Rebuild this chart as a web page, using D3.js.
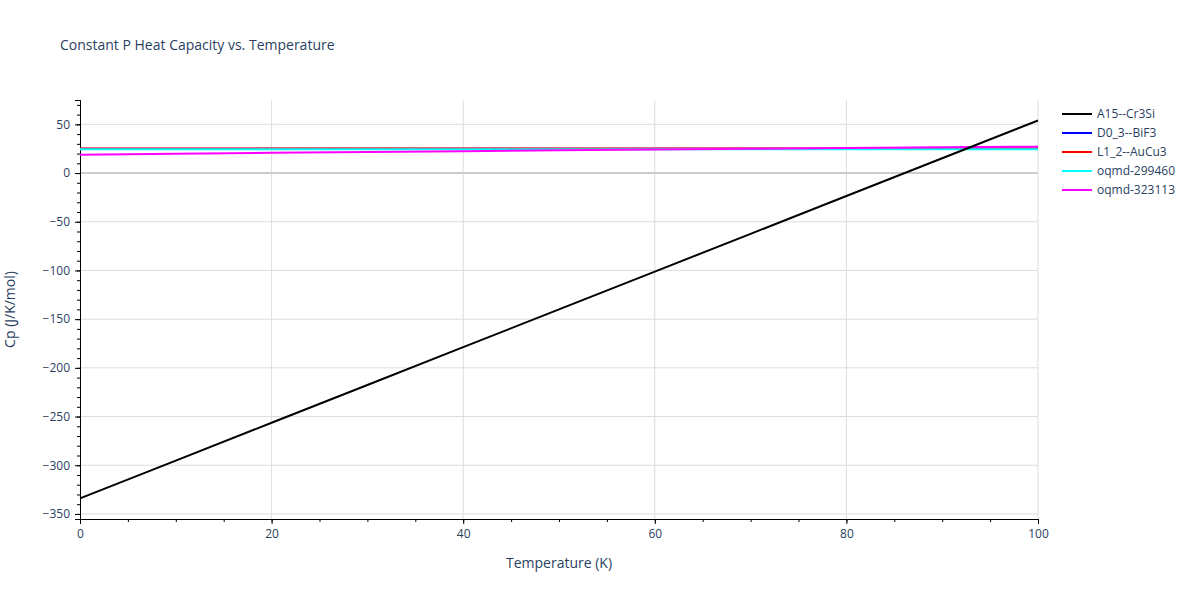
<!DOCTYPE html>
<html><head><meta charset="utf-8">
<script src="https://cdn.jsdelivr.net/npm/d3@7"></script>
<style>body{margin:0;background:#fff;font-family:"Open Sans",sans-serif}</style>
</head><body><div id="chart"></div>
<script>
const temps = [0, 10, 20, 30, 40, 50, 60, 70, 80, 90, 100];
const seriesNames = ["A15--Cr3Si", "D0_3--BiF3", "L1_2--AuCu3", "oqmd-299460", "oqmd-323113"];
const seriesColors = ["#000000", "#0000ff", "#ff0000", "#00ffff", "#ff00ff"];
const cpA15 = [-334, -295.2, -256.4, -217.6, -178.8, -140, -101.2, -62.4, -23.6, 15.2, 54];
const cpD03 = [25, 25, 25, 25, 25, 25, 25, 25, 25, 25, 25];
const cpL12 = [25.2, 25.2, 25.2, 25.2, 25.2, 25.2, 25.2, 25.2, 25.2, 25.2, 25.2];
const cp299460 = [24.5, 24.5, 24.5, 24.5, 24.5, 24.5, 24.5, 24.5, 24.5, 24.5, 24.5];
const cp323113 = [18.8, 19.8, 20.8, 21.7, 22.5, 23.3, 24.1, 24.9, 25.7, 26.4, 27.1];
const allCp = [cpA15, cpD03, cpL12, cp299460, cp323113];
const yTicks = [50, 0, -50, -100, -150, -200, -250, -300, -350];
const xTicks = [0, 20, 40, 60, 80, 100];

const width = 1200, height = 600,
      margin = ({top: 100, right: 162, bottom: 81, left: 80});

const svg = d3.select("#chart").append("svg")
  .attr("width", width).attr("height", height);

const x = d3.scaleLinear().domain([0, 100]).range([margin.left, width - margin.right]);
const y = d3.scaleLinear().domain([-355.2, 75]).range([height - margin.bottom, margin.top]);

// grid
svg.append("g").selectAll("line").data(xTicks.slice(1)).join("line")
  .attr("x1", d => x(d)).attr("x2", d => x(d))
  .attr("y1", margin.top).attr("y2", height - margin.bottom)
  .attr("stroke", "#ddd");
svg.append("g").selectAll("line").data(yTicks).join("line")
  .attr("x1", margin.left).attr("x2", width - margin.right)
  .attr("y1", d => y(d)).attr("y2", d => y(d))
  .attr("stroke", d => d === 0 ? "#ccc" : "#ddd").attr("stroke-width", d => d === 0 ? 2 : 1);

// axes
const yAxis = svg.append("g").attr("transform", `translate(${margin.left},0)`)
  .call(d3.axisLeft(y).tickValues(yTicks).tickSize(5).tickFormat(d => d < 0 ? "\u2212" + (-d) : d));
svg.append("g").attr("transform", `translate(${margin.left},0)`)
  .call(d3.axisLeft(y).tickValues(d3.range(-350, 80, 10)).tickSize(3).tickFormat(""));
const xAxis = svg.append("g").attr("transform", `translate(0,${height - margin.bottom})`)
  .call(d3.axisBottom(x).tickValues(xTicks).tickSize(5));
svg.append("g").attr("transform", `translate(0,${height - margin.bottom})`)
  .call(d3.axisBottom(x).tickValues(d3.range(0, 101, 5)).tickSize(3).tickFormat(""));
svg.selectAll(".tick text").attr("fill", "#2a3f5f").attr("font-size", 12).attr("font-family", "Open Sans");
yAxis.selectAll(".tick text").attr("dx", "-2");
xAxis.selectAll(".tick text").attr("dy", "0.9em");

// lines
const line = d3.line().x((d, i) => x(temps[i])).y(d => y(d));
svg.append("g").selectAll("path").data([1, 2, 3, 4, 0]).join("path")
  .attr("d", i => line(allCp[i]))
  .attr("fill", "none").attr("stroke", i => seriesColors[i]).attr("stroke-width", 2);

// texts
svg.append("text").attr("x", 60).attr("y", 50).text("Constant P Heat Capacity vs. Temperature")
  .attr("font-size", 14).attr("fill", "#2a3f5f");
svg.append("text").attr("x", (margin.left + width - margin.right) / 2).attr("y", 568)
  .attr("text-anchor", "middle").text("Temperature (K)").attr("font-size", 14).attr("fill", "#2a3f5f");
svg.append("text").attr("transform", `translate(15,${(margin.top + height - margin.bottom) / 2}) rotate(-90)`)
  .attr("text-anchor", "middle").text("Cp (J/K/mol)").attr("font-size", 14).attr("fill", "#2a3f5f");

// legend
const lg = svg.append("g").selectAll("g").data(seriesNames).join("g")
  .attr("transform", (d, i) => `translate(1062,${114 + i * 19})`);
lg.append("line").attr("x1", 0).attr("x2", 30).attr("stroke", (d, i) => seriesColors[i]).attr("stroke-width", 2);
lg.append("text").attr("x", 35).attr("dy", "0.35em").text(d => d)
  .attr("font-size", 12).attr("fill", "#2a3f5f");
</script></body></html>
